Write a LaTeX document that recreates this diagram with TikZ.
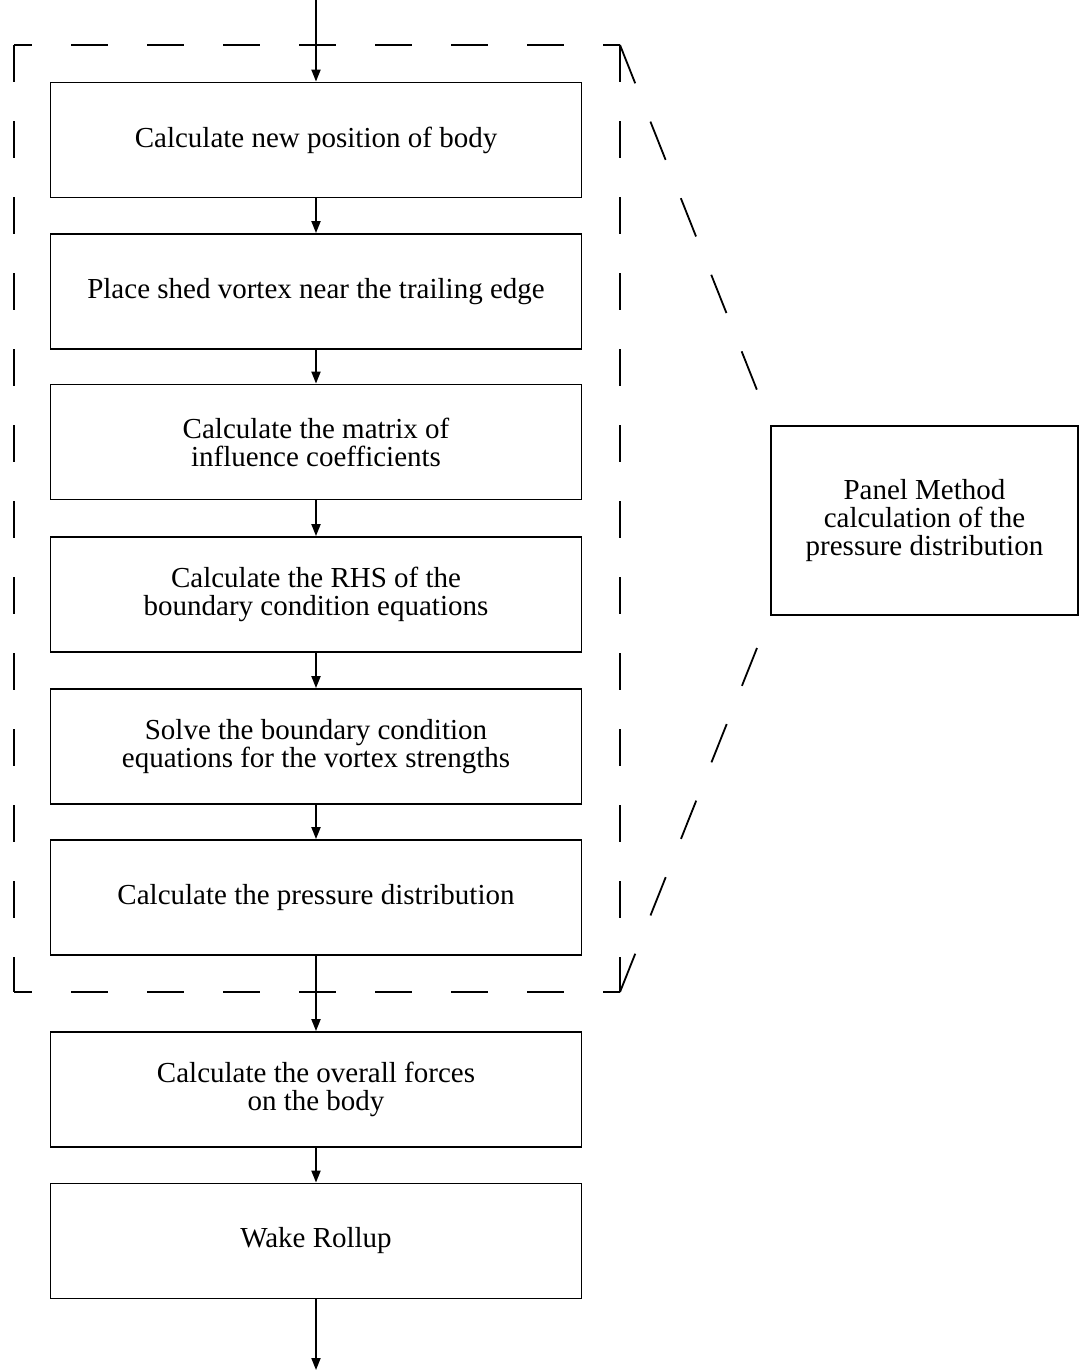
\documentclass[tikz,border=0pt]{standalone}
\usepackage{fontspec}
\setmainfont{Liberation Serif}
\usetikzlibrary{arrows.meta}
\begin{document}
\begin{tikzpicture}[x=0.5pt,y=-0.5pt,
  stepbox/.style={draw, line width=0.9pt, minimum width=265.5pt, minimum height=57.5pt,
    align=center, font=\fontsize{14.5}{14}\selectfont, inner sep=0pt},
  flow/.style={line width=0.9pt, -{Triangle[length=6pt,width=4.5pt]}},
  frame/.style={line width=0.9pt, dash pattern=on 18.5pt off 19.5pt},
  diag/.style={line width=0.9pt, dash pattern=on 20.6pt off 20.6pt},
]
\useasboundingbox (0,0) rectangle (1079,1372);

% dashed frame
\draw[frame, dash phase=9.5pt] (14,45) -- (620,45);
\draw[frame] (14,45) -- (14,992);
\draw[frame] (620,45) -- (620,992);
\draw[frame, dash phase=9.5pt] (14,992) -- (620,992);
\draw[diag] (620,45) -- (757,390);
\draw[diag] (620,992) -- (757,648);

% steps
\node[stepbox] (b1) at (316,140) {Calculate new position of body};
\node[stepbox] (b2) at (316,291.5) {Place shed vortex near the trailing edge};
\node[stepbox] (b3) at (316,442) {Calculate the matrix of\\influence coefficients};
\node[stepbox] (b4) at (316,594.5) {Calculate the RHS of the\\boundary condition equations};
\node[stepbox] (b5) at (316,746.5) {Solve the boundary condition\\equations for the vortex strengths};
\node[stepbox] (b6) at (316,897.5) {Calculate the pressure distribution};
\node[stepbox] (b7) at (316,1089.5) {Calculate the overall forces\\on the body};
\node[stepbox] (b8) at (316,1241) {Wake Rollup};

\node[stepbox, minimum width=153.5pt, minimum height=94.5pt] (pm) at (924.5,520.5)
  {Panel Method\\calculation of the\\pressure distribution};

\coordinate (in) at (316,0);
\coordinate (out) at (316,1370);

\draw[flow] (in) -- (b1.north);
\draw[flow] (b1) -- (b2);
\draw[flow] (b2) -- (b3);
\draw[flow] (b3) -- (b4);
\draw[flow] (b4) -- (b5);
\draw[flow] (b5) -- (b6);
\draw[flow] (b6) -- (b7);
\draw[flow] (b7) -- (b8);
\draw[flow] (b8.south) -- (out);
\end{tikzpicture}
\end{document}
